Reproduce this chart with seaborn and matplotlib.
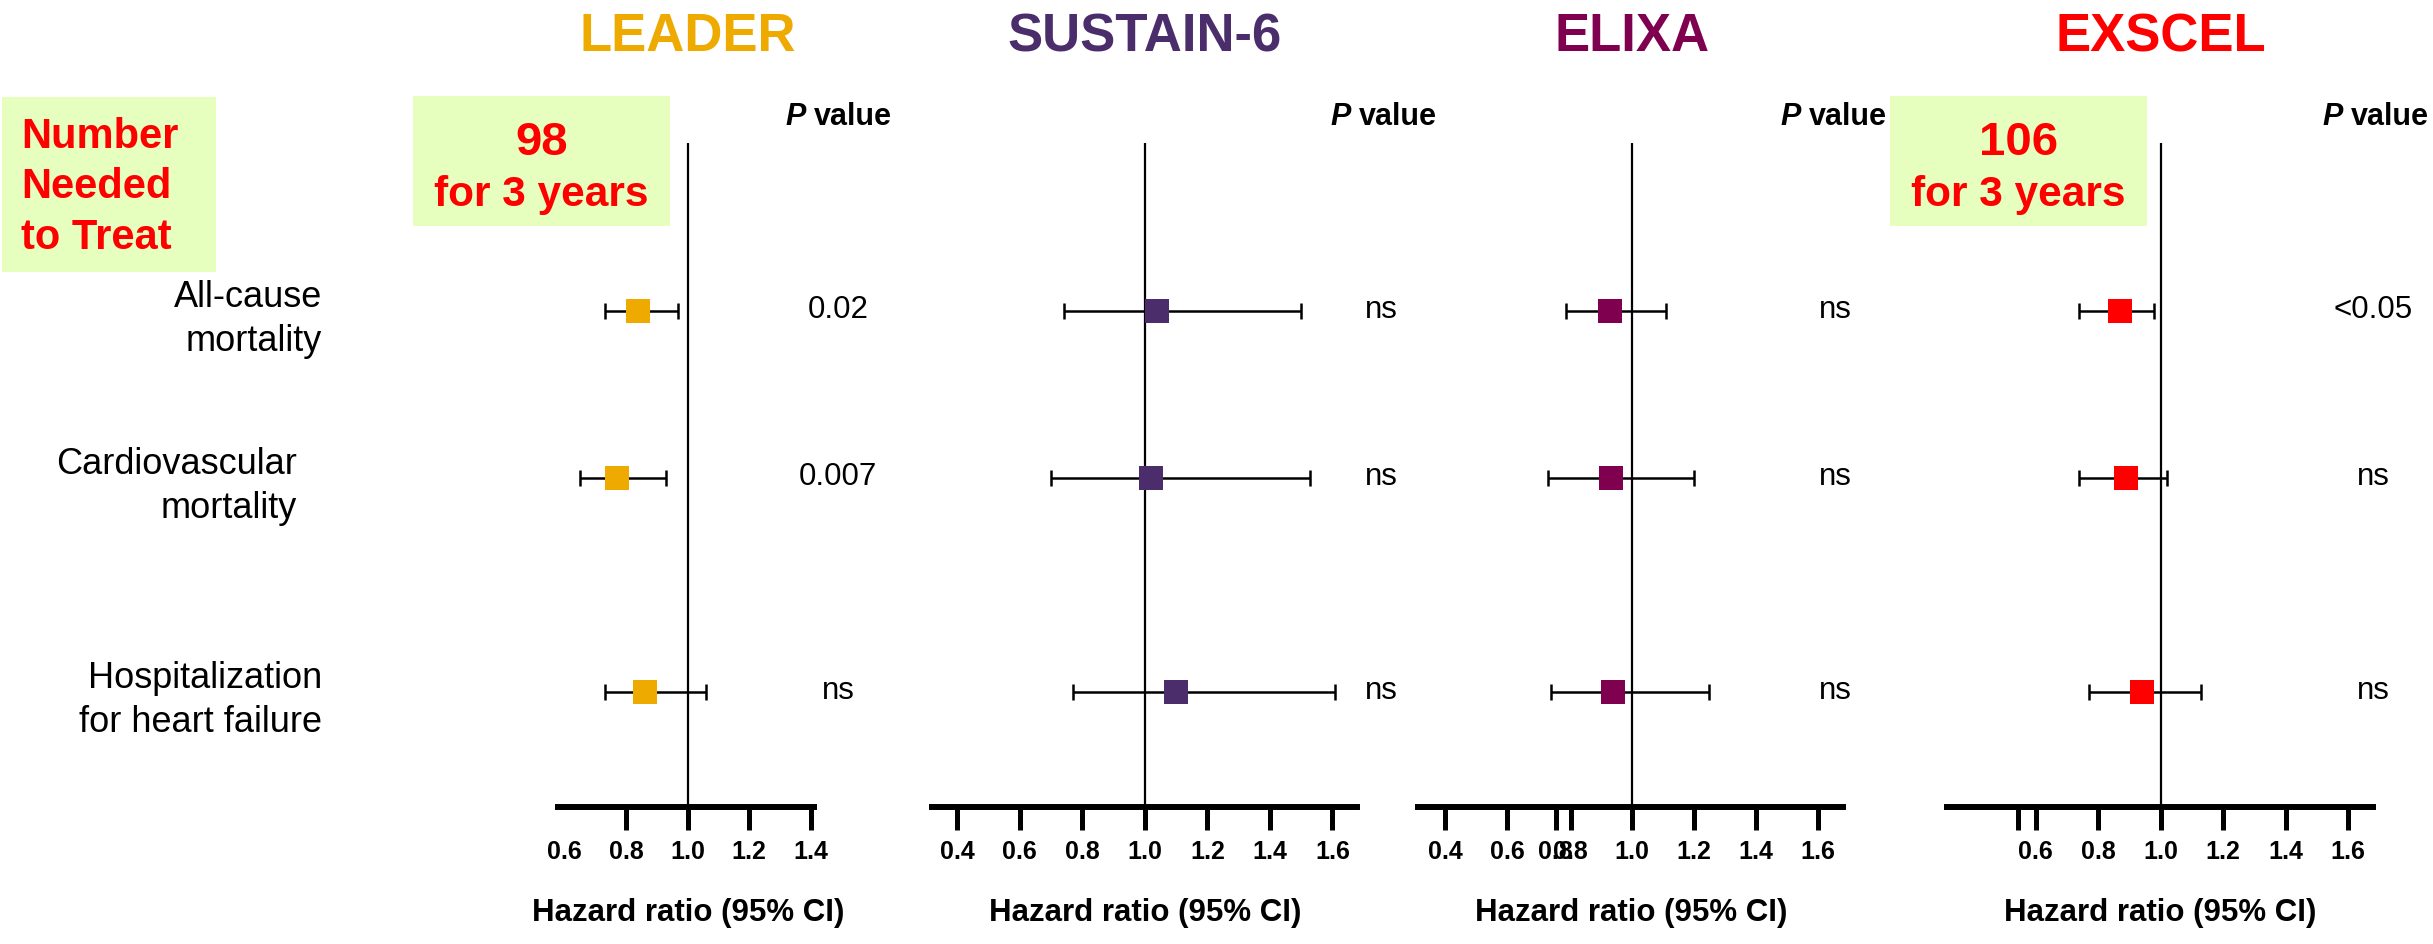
import numpy as np
import pandas as pd
import matplotlib
matplotlib.use("Agg")
import matplotlib.pyplot as plt
from matplotlib.patches import Rectangle
import seaborn as sns

# ---------------- data ----------------
trials = ["LEADER", "SUSTAIN-6", "ELIXA", "EXSCEL"]
trial_colors = ["#EFAA00", "#4B2D6B", "#800050", "#FF0000"]
outcomes = ["All-cause\nmortality", "Cardiovascular\nmortality", "Hospitalization\nfor heart failure"]

hr_leader = [0.84, 0.77, 0.86]
lo_leader = [0.73, 0.65, 0.73]
hi_leader = [0.97, 0.93, 1.06]

hr_sustain = [1.04, 1.02, 1.10]
lo_sustain = [0.74, 0.70, 0.77]
hi_sustain = [1.50, 1.53, 1.61]

hr_elixa = [0.93, 0.935, 0.94]
lo_elixa = [0.79, 0.73, 0.74]
hi_elixa = [1.11, 1.20, 1.25]

hr_exscel = [0.87, 0.89, 0.94]
lo_exscel = [0.74, 0.74, 0.77]
hi_exscel = [0.98, 1.02, 1.13]

p_leader = ["0.02", "0.007", "ns"]
p_sustain = ["ns", "ns", "ns"]
p_elixa = ["ns", "ns", "ns"]
p_exscel = ["<0.05", "ns", "ns"]

nnt_values = ["98", None, None, "106"]
nnt_period = "for 3 years"
nnt_title = ["Number", "Needed", "to Treat"]

ticks_leader = [0.6, 0.8, 1.0, 1.2, 1.4]
ticklabels_leader = ["0.6", "0.8", "1.0", "1.2", "1.4"]
ticks_sustain = [0.4, 0.6, 0.8, 1.0, 1.2, 1.4, 1.6]
ticklabels_sustain = ["0.4", "0.6", "0.8", "1.0", "1.2", "1.4", "1.6"]
ticks_elixa = [0.4, 0.6, 0.756, 0.804, 1.0, 1.2, 1.4, 1.6]
ticklabels_elixa = ["0.4", "0.6", "0.8", "0.8", "1.0", "1.2", "1.4", "1.6"]
ticks_exscel = [0.544, 0.6, 0.8, 1.0, 1.2, 1.4, 1.6]
ticklabels_exscel = ["", "0.6", "0.8", "1.0", "1.2", "1.4", "1.6"]

xlabel_text = "Hazard ratio (95% CI)"

hrs = [hr_leader, hr_sustain, hr_elixa, hr_exscel]
los = [lo_leader, lo_sustain, lo_elixa, lo_exscel]
his = [hi_leader, hi_sustain, hi_elixa, hi_exscel]
pvals = [p_leader, p_sustain, p_elixa, p_exscel]
ticks = [ticks_leader, ticks_sustain, ticks_elixa, ticks_exscel]
ticklabels = [ticklabels_leader, ticklabels_sustain, ticklabels_elixa, ticklabels_exscel]

# ---------------- layout ----------------
W, H = 2433, 944
axes_px = [(558, 814), (931.7, 1356.7), (1418.3, 1842.7), (1946.7, 2372.7)]
xlims = [(0.579, 1.41), (0.318, 1.678), (0.314, 1.679), (0.315, 1.679)]
AX_TOP, AX_BOT = 143, 807
row_pos = [0.0, 1.0, 2.281]
ylim = (2.97, -1.006)
pval_cx = [838, 1381, 1835, 2373]
phead_right = [892, 1437, 1887, 2429]
label_right = [322, 297, 322]
box_color = "#E6FFBE"
nnt_boxes = [(413, 96, 670, 226), None, None, (1890, 96, 2147, 226)]


def fx(px):
    return px / W


def fy(py):
    return 1 - py / H


sns.set_theme(style="white")
plt.rcParams["font.family"] = ["Liberation Sans", "DejaVu Sans"]
plt.rcParams["text.color"] = "black"
plt.rcParams["axes.labelcolor"] = "black"
plt.rcParams["xtick.color"] = "black"

fig = plt.figure(figsize=(W / 100, H / 100), dpi=100)
fig.patch.set_facecolor("white")

# left NNT box
fig.add_artist(Rectangle((fx(2), fy(272)), (216 - 2) / W, (272 - 97) / H,
                         transform=fig.transFigure, fc=box_color, ec="none", zorder=0))
for line, base in zip(nnt_title, [148, 198, 249]):
    fig.text(fx(21), fy(base), line, ha="left", va="baseline", fontsize=30,
             fontweight="bold", color="#FF0000")

for i, trial in enumerate(trials):
    x0, x1 = axes_px[i]
    ax = fig.add_axes([x0 / W, 1 - AX_BOT / H, (x1 - x0) / W, (AX_BOT - AX_TOP) / H])
    ax.patch.set_alpha(0)
    df = pd.DataFrame({"outcome": outcomes, "hr": hrs[i], "lo": los[i],
                       "hi": his[i], "row": row_pos})
    ax.axvline(1.0, color="black", lw=1.6, zorder=1)
    ax.errorbar(df["hr"], df["row"],
                xerr=[df["hr"] - df["lo"], df["hi"] - df["hr"]],
                fmt="none", ecolor="black", elinewidth=1.8, capsize=5.5,
                capthick=1.8, zorder=2)
    sns.scatterplot(data=df, x="hr", y="row", marker="s", s=275,
                    color=trial_colors[i], linewidth=0, ax=ax, zorder=3, legend=False)
    ax.set_xlim(*xlims[i])
    ax.set_ylim(*ylim)
    ax.set_xlabel("")
    ax.set_ylabel("")
    for s in ["top", "right", "left"]:
        ax.spines[s].set_visible(False)
    ax.spines["bottom"].set_linewidth(4.3)
    ax.spines["bottom"].set_color("black")
    ax.set_yticks([])
    ax.set_xticks(ticks[i])
    ax.set_xticklabels(ticklabels[i], fontsize=18, fontweight="bold")
    ax.tick_params(axis="x", direction="out", length=16.5, width=3.6, pad=7,
                   color="black", bottom=True)
    if i == 0:
        ax.xaxis.get_major_ticks()[0].tick1line.set_visible(False)

    # title
    ax.annotate(trial, xy=(1.0, fy(51)), xycoords=("data", "figure fraction"),
                ha="center", va="baseline", fontsize=38, fontweight="bold",
                color=trial_colors[i], annotation_clip=False)
    # x label
    ax.annotate(xlabel_text, xy=(1.0, fy(913)), xycoords=("data", "figure fraction"),
                ha="center", va="center", fontsize=22.5, fontweight="bold",
                annotation_clip=False)
    # P value header
    tv = fig.text(fx(phead_right[i]), fy(125), "value", ha="right", va="baseline",
                  fontsize=22, fontweight="bold")
    fig.texts.append(tv) if tv not in fig.texts else None
    ax.annotate("P", xy=(0, 0), xycoords=tv, xytext=(-8, 0), textcoords="offset pixels",
                ha="right", va="bottom", fontsize=22, fontweight="bold", style="italic",
                annotation_clip=False)
    # p-values
    for r, p in zip(row_pos, pvals[i]):
        ax.annotate(p, xy=(fx(pval_cx[i]), r), xycoords=("figure fraction", "data"),
                    xytext=(0, 1), textcoords="offset pixels",
                    ha="center", va="center", fontsize=22.5, annotation_clip=False)
    # NNT boxes
    if nnt_values[i] is not None:
        bx0, by0, bx1, by1 = nnt_boxes[i]
        fig.add_artist(Rectangle((fx(bx0), fy(by1)), (bx1 - bx0) / W, (by1 - by0) / H,
                                 transform=fig.transFigure, fc=box_color, ec="none",
                                 zorder=0))
        cx = (bx0 + bx1) / 2
        fig.text(fx(cx), fy(155), nnt_values[i], ha="center", va="baseline",
                 fontsize=34, fontweight="bold", color="#FF0000")
        fig.text(fx(cx), fy(206), nnt_period, ha="center", va="baseline",
                 fontsize=30.5, fontweight="bold", color="#FF0000")
    # row labels on the first panel
    if i == 0:
        for r, lab, xr in zip(row_pos, outcomes, label_right):
            lines = lab.split("\n")
            for k, (ln, off) in enumerate(zip(lines, [4, -40])):
                ax.annotate(ln, xy=(fx(xr), r), xycoords=("figure fraction", "data"),
                            xytext=(0, off), textcoords="offset pixels",
                            ha="right", va="baseline", fontsize=26,
                            annotation_clip=False)

fig.savefig("out.png", dpi=100, facecolor="white")
